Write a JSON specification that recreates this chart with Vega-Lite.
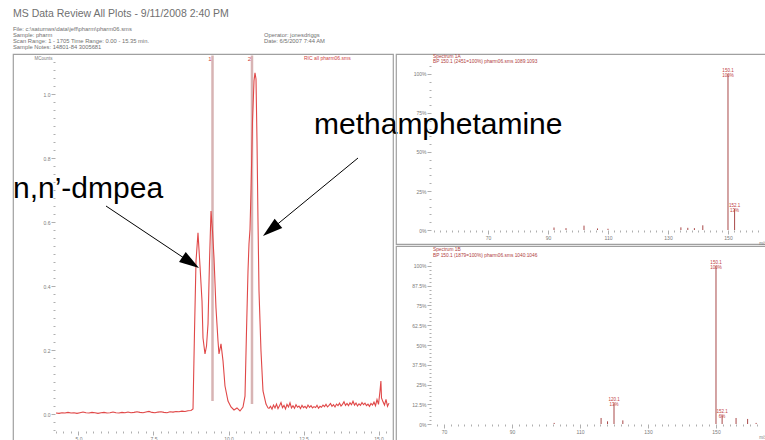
{
  "$schema": "https://vega.github.io/schema/vega-lite/v6.json",
  "padding": {"left": 12, "top": 8, "right": 0, "bottom": 0},
  "title": {"text": "MS Data Review All Plots - 9/11/2008 2:40 PM", "anchor": "start", "frame": "group", "fontSize": 10.5, "font": "Liberation Sans", "fontWeight": "normal", "color": "#707070", "offset": 3},
  "config": {
    "view": {"stroke": "#a0a0a0", "strokeWidth": 1.2},
    "font": "Liberation Sans",
    "axis": {"labelFont": "Liberation Sans", "titleFont": "Liberation Sans", "labelFontSize": 5, "labelColor": "#7a7a7a", "tickColor": "#9a9a9a", "tickWidth": 0.8, "grid": false, "domain": false, "labelOverlap": false, "labelFlush": false, "labelPadding": 1, "tickCount": 500}
  },
  "datasets": {
    "header": [
      {"line": 2, "col": "left", "text": "File: c:\\saturnws\\data\\jeff\\pharm\\pharm06.sms"},
      {"line": 3, "col": "left", "text": "Sample: pharm"},
      {"line": 3, "col": "right", "text": "Operator: jonesdriggs"},
      {"line": 4, "col": "left", "text": "Scan Range: 1 - 1705  Time Range: 0.00 - 15.35 min."},
      {"line": 4, "col": "right", "text": "Date: 6/5/2007 7:44 AM"},
      {"line": 5, "col": "left", "text": "Sample Notes: 14801-84 3005681"}
    ],
    "chrom": [
      {"t": 4.25, "I": 0.003}, {"t": 4.35, "I": 0.002}, {"t": 4.45, "I": 0.004}, {"t": 4.55, "I": 0.003}, {"t": 4.65, "I": 0.005},
      {"t": 4.75, "I": 0.003}, {"t": 4.85, "I": 0.004}, {"t": 4.95, "I": 0.002}, {"t": 5.05, "I": 0.004}, {"t": 5.15, "I": 0.006},
      {"t": 5.25, "I": 0.004}, {"t": 5.35, "I": 0.003}, {"t": 5.45, "I": 0.005}, {"t": 5.55, "I": 0.004}, {"t": 5.65, "I": 0.002},
      {"t": 5.75, "I": 0.004}, {"t": 5.85, "I": 0.005}, {"t": 5.95, "I": 0.003}, {"t": 6.05, "I": 0.004}, {"t": 6.15, "I": 0.006},
      {"t": 6.25, "I": 0.004}, {"t": 6.35, "I": 0.003}, {"t": 6.45, "I": 0.005}, {"t": 6.55, "I": 0.004}, {"t": 6.65, "I": 0.006},
      {"t": 6.75, "I": 0.004}, {"t": 6.85, "I": 0.005}, {"t": 6.95, "I": 0.007}, {"t": 7.05, "I": 0.005}, {"t": 7.15, "I": 0.004},
      {"t": 7.25, "I": 0.006}, {"t": 7.35, "I": 0.008}, {"t": 7.45, "I": 0.005}, {"t": 7.55, "I": 0.004}, {"t": 7.65, "I": 0.006},
      {"t": 7.75, "I": 0.007}, {"t": 7.85, "I": 0.005}, {"t": 7.95, "I": 0.004}, {"t": 8.05, "I": 0.007}, {"t": 8.15, "I": 0.006},
      {"t": 8.25, "I": 0.008}, {"t": 8.35, "I": 0.007}, {"t": 8.45, "I": 0.009}, {"t": 8.55, "I": 0.008}, {"t": 8.65, "I": 0.010},
      {"t": 8.75, "I": 0.011},
      {"t": 8.817, "I": 0.0156}, {"t": 8.867, "I": 0.259}, {"t": 8.917, "I": 0.478}, {"t": 8.983, "I": 0.566}, {"t": 9.05, "I": 0.4625},
      {"t": 9.117, "I": 0.353}, {"t": 9.15, "I": 0.2375}, {"t": 9.217, "I": 0.1875}, {"t": 9.267, "I": 0.2125}, {"t": 9.317, "I": 0.281},
      {"t": 9.367, "I": 0.478}, {"t": 9.417, "I": 0.634}, {"t": 9.467, "I": 0.572}, {"t": 9.517, "I": 0.4875}, {"t": 9.583, "I": 0.331},
      {"t": 9.65, "I": 0.228}, {"t": 9.683, "I": 0.1875}, {"t": 9.75, "I": 0.219}, {"t": 9.817, "I": 0.166}, {"t": 9.883, "I": 0.0875},
      {"t": 9.983, "I": 0.0406}, {"t": 10.083, "I": 0.0219}, {"t": 10.183, "I": 0.0125}, {"t": 10.283, "I": 0.0188}, {"t": 10.383, "I": 0.0094},
      {"t": 10.483, "I": 0.0219}, {"t": 10.55, "I": 0.056}, {"t": 10.6, "I": 0.259}, {"t": 10.65, "I": 0.447}, {"t": 10.683, "I": 0.531},
      {"t": 10.717, "I": 0.578}, {"t": 10.75, "I": 0.697}, {"t": 10.8, "I": 0.916}, {"t": 10.85, "I": 1.041}, {"t": 10.883, "I": 1.066},
      {"t": 10.917, "I": 1.047}, {"t": 10.95, "I": 0.853}, {"t": 10.983, "I": 0.603}, {"t": 11.017, "I": 0.384}, {"t": 11.083, "I": 0.197},
      {"t": 11.15, "I": 0.072}, {"t": 11.25, "I": 0.031}, {"t": 11.317, "I": 0.019},
      {"t": 11.35, "I": 0.018}, {"t": 11.4, "I": 0.024}, {"t": 11.45, "I": 0.015}, {"t": 11.5, "I": 0.028}, {"t": 11.55, "I": 0.019},
      {"t": 11.6, "I": 0.031}, {"t": 11.65, "I": 0.017}, {"t": 11.7, "I": 0.026}, {"t": 11.75, "I": 0.036}, {"t": 11.8, "I": 0.02},
      {"t": 11.85, "I": 0.027}, {"t": 11.9, "I": 0.016}, {"t": 11.95, "I": 0.03}, {"t": 12.0, "I": 0.022}, {"t": 12.05, "I": 0.035},
      {"t": 12.1, "I": 0.019}, {"t": 12.15, "I": 0.026}, {"t": 12.2, "I": 0.018}, {"t": 12.25, "I": 0.029}, {"t": 12.3, "I": 0.021},
      {"t": 12.35, "I": 0.025}, {"t": 12.4, "I": 0.017}, {"t": 12.45, "I": 0.027}, {"t": 12.5, "I": 0.02}, {"t": 12.55, "I": 0.024},
      {"t": 12.6, "I": 0.018}, {"t": 12.65, "I": 0.028}, {"t": 12.7, "I": 0.021}, {"t": 12.75, "I": 0.026}, {"t": 12.8, "I": 0.019},
      {"t": 12.85, "I": 0.023}, {"t": 12.9, "I": 0.02}, {"t": 12.95, "I": 0.027}, {"t": 13.0, "I": 0.018}, {"t": 13.05, "I": 0.024},
      {"t": 13.1, "I": 0.021}, {"t": 13.15, "I": 0.028}, {"t": 13.2, "I": 0.023}, {"t": 13.25, "I": 0.03}, {"t": 13.3, "I": 0.022},
      {"t": 13.35, "I": 0.027}, {"t": 13.4, "I": 0.033}, {"t": 13.45, "I": 0.024}, {"t": 13.5, "I": 0.029}, {"t": 13.55, "I": 0.022},
      {"t": 13.6, "I": 0.031}, {"t": 13.65, "I": 0.026}, {"t": 13.7, "I": 0.034}, {"t": 13.75, "I": 0.025}, {"t": 13.8, "I": 0.03},
      {"t": 13.85, "I": 0.038}, {"t": 13.9, "I": 0.027}, {"t": 13.95, "I": 0.033}, {"t": 14.0, "I": 0.026}, {"t": 14.05, "I": 0.035},
      {"t": 14.1, "I": 0.029}, {"t": 14.15, "I": 0.04}, {"t": 14.2, "I": 0.028}, {"t": 14.25, "I": 0.034}, {"t": 14.3, "I": 0.025},
      {"t": 14.35, "I": 0.032}, {"t": 14.4, "I": 0.027}, {"t": 14.45, "I": 0.036}, {"t": 14.5, "I": 0.029}, {"t": 14.55, "I": 0.034},
      {"t": 14.6, "I": 0.026}, {"t": 14.65, "I": 0.031}, {"t": 14.7, "I": 0.024}, {"t": 14.75, "I": 0.033}, {"t": 14.8, "I": 0.028},
      {"t": 14.85, "I": 0.037}, {"t": 14.9, "I": 0.026}, {"t": 14.95, "I": 0.045}, {"t": 15.0, "I": 0.03}, {"t": 15.05, "I": 0.072},
      {"t": 15.08, "I": 0.103}, {"t": 15.1, "I": 0.05}, {"t": 15.15, "I": 0.038}, {"t": 15.2, "I": 0.028}, {"t": 15.25, "I": 0.046},
      {"t": 15.3, "I": 0.024}, {"t": 15.35, "I": 0.034}
    ],
    "markers": [
      {"t": 9.467, "I": 0.0406, "I2": 1.12, "label": "1"},
      {"t": 10.783, "I": 0.031, "I2": 1.12, "label": "2"}
    ],
    "leftText": [
      {"t": 12.517, "I": 1.111, "text": "RIC all pharm06.sms"}
    ],
    "annot": [
      {"t": 12.85, "I": 0.875, "text": "methamphetamine"},
      {"t": 2.8167, "I": 0.675, "text": "n,n’-dmpea"}
    ],
    "arrows": [
      {"name": "methamphetamine", "t": 14.317, "I": 0.8, "t2": 11.407, "I2": 0.5759},
      {"name": "dmpea", "t": 5.917, "I": 0.65, "t2": 8.74, "I2": 0.4734}
    ],
    "specTop": [
      {"mz": 92, "pct": 1.6}, {"mz": 96, "pct": 1.2}, {"mz": 102, "pct": 2.8}, {"mz": 106.5, "pct": 1.0}, {"mz": 110, "pct": 0.8},
      {"mz": 134.3, "pct": 1.7}, {"mz": 136.6, "pct": 1.4}, {"mz": 138.8, "pct": 1.2}, {"mz": 141.6, "pct": 3.0},
      {"mz": 150, "pct": 100, "label": "150.1\n100%"},
      {"mz": 152.2, "pct": 13.5, "label": "152.1\n13%"}
    ],
    "specTopText": [
      {"mz": 51.67, "pct": 111.2, "text": "Spectrum 1A"},
      {"mz": 51.67, "pct": 108.0, "text": "BP 150.1 (2451=100%) pharm06.sms 1089:1093"}
    ],
    "specBot": [
      {"mz": 102.4, "pct": 0.7}, {"mz": 116.2, "pct": 3.8}, {"mz": 118.1, "pct": 1.7},
      {"mz": 120, "pct": 13.1, "label": "120.1\n13%"},
      {"mz": 122.6, "pct": 2.3},
      {"mz": 150, "pct": 100, "label": "150.1\n100%"},
      {"mz": 151.8, "pct": 5.5, "label": "152.1\n6%"},
      {"mz": 155.9, "pct": 3.8}, {"mz": 159.3, "pct": 3.2}, {"mz": 161.8, "pct": 0.7}
    ],
    "specBotText": [
      {"mz": 66.76, "pct": 110.4, "text": "Spectrum 1B"},
      {"mz": 66.76, "pct": 106.3, "text": "BP 150.1 (1879=100%) pharm06.sms 1040:1046"}
    ]
  },
  "vconcat": [
    {
      "width": 753,
      "height": 28.5,
      "view": {"stroke": null},
      "data": {"name": "header"},
      "mark": {"type": "text", "align": "left", "baseline": "middle", "fontSize": 5.8, "font": "Liberation Sans", "color": "#707070"},
      "encoding": {
        "x": {"field": "col", "type": "nominal", "scale": {"domain": ["left", "right"], "range": [0, 251], "padding": 0}, "axis": null},
        "y": {"field": "line", "type": "ordinal", "scale": {"domain": [2, 3, 4, 5], "range": [6.8, 25.2], "padding": 0}, "axis": null},
        "text": {"field": "text"}
      }
    },
    {
      "hconcat": [
        {
          "width": 380,
          "height": 387,
          "layer": [
            {
              "mark": {"type": "rect", "fill": "transparent", "stroke": "#a0a0a0", "strokeWidth": 1},
              "encoding": {
                "x": {"datum": 4.2167, "type": "quantitative"},
                "x2": {"datum": 15.35},
                "y": {"datum": -0.053, "type": "quantitative"},
                "y2": {"datum": 1.122}
              }
            },
            {
              "data": {"name": "markers"},
              "mark": {"type": "rule", "color": "#d8b4b4", "strokeWidth": 2.5},
              "encoding": {
                "x": {"field": "t", "type": "quantitative"},
                "y": {"field": "I", "type": "quantitative"},
                "y2": {"field": "I2"}
              }
            },
            {
              "data": {"name": "chrom"},
              "mark": {"type": "line", "color": "#e04848", "strokeWidth": 1.1},
              "encoding": {
                "x": {
                  "field": "t", "type": "quantitative",
                  "scale": {"domain": [2.81667, 15.48333], "nice": false, "zero": false},
                  "axis": {
                    "orient": "bottom", "offset": -10, "title": null, "tickCount": 500,
                    "values": [4.25,4.5,4.75,5,5.25,5.5,5.75,6,6.25,6.5,6.75,7,7.25,7.5,7.75,8,8.25,8.5,8.75,9,9.25,9.5,9.75,10,10.25,10.5,10.75,11,11.25,11.5,11.75,12,12.25,12.5,12.75,13,13.25,13.5,13.75,14,14.25,14.5,14.75,15,15.25],
                    "labelExpr": "abs(datum.value/2.5-round(datum.value/2.5))<0.001 ? format(datum.value,'.1f') : ''",
                    "tickSize": {"condition": {"test": "abs(datum.value/2.5-round(datum.value/2.5))<0.001", "value": 4}, "value": 2}
                  }
                },
                "y": {
                  "field": "I", "type": "quantitative",
                  "scale": {"domain": [-0.084375, 1.125], "nice": false, "zero": false},
                  "axis": {
                    "orient": "left", "offset": -42, "tickCount": 500,
                    "title": "MCounts", "titleAngle": 0, "titleX": -12, "titleY": 4, "titleAlign": "center", "titleBaseline": "middle", "titleFontSize": 4.5, "titleFontWeight": "normal", "titleColor": "#7a7a7a",
                    "values": [-0.05,-0.025,0,0.025,0.05,0.075,0.1,0.125,0.15,0.175,0.2,0.225,0.25,0.275,0.3,0.325,0.35,0.375,0.4,0.425,0.45,0.475,0.5,0.525,0.55,0.575,0.6,0.625,0.65,0.675,0.7,0.725,0.75,0.775,0.8,0.825,0.85,0.875,0.9,0.925,0.95,0.975,1,1.025,1.05,1.075,1.1],
                    "labelExpr": "abs(datum.value*5-round(datum.value*5))<0.001 ? format(datum.value,'.1f') : ''",
                    "tickSize": {"condition": {"test": "abs(datum.value*5-round(datum.value*5))<0.001", "value": 4}, "value": 2}
                  }
                }
              }
            },
            {
              "data": {"name": "markers"},
              "mark": {"type": "text", "align": "right", "baseline": "top", "dx": -1, "fontSize": 6, "color": "#d04040"},
              "encoding": {
                "x": {"field": "t", "type": "quantitative"},
                "y": {"field": "I2", "type": "quantitative"},
                "text": {"field": "label"}
              }
            },
            {
              "data": {"name": "leftText"},
              "mark": {"type": "text", "align": "left", "baseline": "middle", "fontSize": 5, "color": "#d04040"},
              "encoding": {
                "x": {"field": "t", "type": "quantitative"},
                "y": {"field": "I", "type": "quantitative"},
                "text": {"field": "text"}
              }
            },
            {
              "data": {"name": "arrows"},
              "mark": {"type": "rule", "color": "#000000", "strokeWidth": 1},
              "encoding": {
                "x": {"field": "t", "type": "quantitative"},
                "y": {"field": "I", "type": "quantitative"},
                "x2": {"field": "t2"},
                "y2": {"field": "I2"}
              }
            },
            {
              "data": {"name": "arrows"},
              "transform": [{"filter": "datum.name == 'methamphetamine'"}],
              "mark": {"type": "point", "shape": "M0,-1L-0.6,1L0.6,1Z", "filled": true, "color": "#000000", "opacity": 1, "size": 400, "angle": 230.6, "strokeWidth": 0},
              "encoding": {
                "x": {"field": "t2", "type": "quantitative"},
                "y": {"field": "I2", "type": "quantitative"}
              }
            },
            {
              "data": {"name": "arrows"},
              "transform": [{"filter": "datum.name == 'dmpea'"}],
              "mark": {"type": "point", "shape": "M0,-1L-0.6,1L0.6,1Z", "filled": true, "color": "#000000", "opacity": 1, "size": 400, "angle": 123.7, "strokeWidth": 0},
              "encoding": {
                "x": {"field": "t2", "type": "quantitative"},
                "y": {"field": "I2", "type": "quantitative"}
              }
            },
            {
              "data": {"name": "annot"},
              "mark": {"type": "text", "align": "left", "baseline": "alphabetic", "fontSize": 30, "font": "Liberation Sans", "color": "#000000"},
              "encoding": {
                "x": {"field": "t", "type": "quantitative"},
                "y": {"field": "I", "type": "quantitative"},
                "text": {"field": "text"}
              }
            }
          ]
        },
        {
          "vconcat": [
            {
              "width": 370,
              "height": 190,
              "layer": [
                {
                  "mark": {"type": "rect", "fill": "transparent", "stroke": "#a0a0a0", "strokeWidth": 1},
                  "encoding": {
                    "x": {"datum": 51, "type": "quantitative"},
                    "x2": {"datum": 160},
                    "y": {"datum": 0, "type": "quantitative"},
                    "y2": {"datum": 105.77}
                  }
                },
                {
                  "data": {"name": "specTop"},
                  "mark": {"type": "rule", "color": "#a84848", "strokeWidth": 1},
                  "encoding": {
                    "x": {
                      "field": "mz", "type": "quantitative",
                      "scale": {"domain": [39.333, 162.667], "nice": false, "zero": false},
                      "axis": {
                        "orient": "bottom", "offset": -14, "tickCount": 500,
                        "title": "m/z", "titleAnchor": "end", "titleFontSize": 4.5, "titleFontWeight": "normal", "titleColor": "#7a7a7a", "titlePadding": 0,
                        "values": [52,54,56,58,60,62,64,66,68,70,72,74,76,78,80,82,84,86,88,90,92,94,96,98,100,102,104,106,108,110,112,114,116,118,120,122,124,126,128,130,132,134,136,138,140,142,144,146,148,150,152,154,156,158,160],
                        "labelExpr": "(datum.value-10)%20==0 ? format(datum.value,'d') : ''",
                        "tickSize": {"condition": {"test": "(datum.value-10)%20==0", "value": 4}, "value": 2}
                      }
                    },
                    "y": {
                      "field": "pct", "type": "quantitative",
                      "scale": {"domain": [-8.974, 112.82], "nice": false, "zero": false},
                      "axis": {
                        "orient": "left", "offset": -35, "title": null, "tickCount": 500,
                        "values": [0,5,10,15,20,25,30,35,40,45,50,55,60,65,70,75,80,85,90,95,100,105],
                        "labelExpr": "datum.value%25==0 ? datum.value+'%' : ''",
                        "tickSize": {"condition": {"test": "datum.value%25==0", "value": 4}, "value": 2}
                      }
                    },
                    "y2": {"datum": 0}
                  }
                },
                {
                  "data": {"name": "specTop"},
                  "transform": [{"filter": "datum.label"}],
                  "mark": {"type": "text", "align": "center", "baseline": "bottom", "dy": -1, "fontSize": 4.5, "lineBreak": "\n", "lineHeight": 5, "color": "#c04040"},
                  "encoding": {
                    "x": {"field": "mz", "type": "quantitative"},
                    "y": {"field": "pct", "type": "quantitative"},
                    "text": {"field": "label"}
                  }
                },
                {
                  "data": {"name": "specTopText"},
                  "mark": {"type": "text", "align": "left", "baseline": "middle", "fontSize": 4.8, "color": "#b04040"},
                  "encoding": {
                    "x": {"field": "mz", "type": "quantitative"},
                    "y": {"field": "pct", "type": "quantitative"},
                    "text": {"field": "text"}
                  }
                }
              ]
            },
            {
              "width": 370,
              "height": 195,
              "layer": [
                {
                  "mark": {"type": "rect", "fill": "transparent", "stroke": "#a0a0a0", "strokeWidth": 1},
                  "encoding": {
                    "x": {"datum": 66.18, "type": "quantitative"},
                    "x2": {"datum": 162.35},
                    "y": {"datum": 0, "type": "quantitative"},
                    "y2": {"datum": 104.43}
                  }
                },
                {
                  "data": {"name": "specBot"},
                  "mark": {"type": "rule", "color": "#a84848", "strokeWidth": 1},
                  "encoding": {
                    "x": {
                      "field": "mz", "type": "quantitative",
                      "scale": {"domain": [55.882, 164.706], "nice": false, "zero": false},
                      "axis": {
                        "orient": "bottom", "offset": -17, "tickCount": 500,
                        "title": "m/z", "titleAnchor": "end", "titleFontSize": 4.5, "titleFontWeight": "normal", "titleColor": "#7a7a7a", "titlePadding": 0,
                        "values": [68,70,72,74,76,78,80,82,84,86,88,90,92,94,96,98,100,102,104,106,108,110,112,114,116,118,120,122,124,126,128,130,132,134,136,138,140,142,144,146,148,150,152,154,156,158,160,162],
                        "labelExpr": "(datum.value-10)%20==0 ? format(datum.value,'d') : ''",
                        "tickSize": {"condition": {"test": "(datum.value-10)%20==0", "value": 4}, "value": 2}
                      }
                    },
                    "y": {
                      "field": "pct", "type": "quantitative",
                      "scale": {"domain": [-10.759, 112.658], "nice": false, "zero": false},
                      "axis": {
                        "orient": "left", "offset": -35, "title": null, "tickCount": 500,
                        "values": [0,2.5,5,7.5,10,12.5,15,17.5,20,22.5,25,27.5,30,32.5,35,37.5,40,42.5,45,47.5,50,52.5,55,57.5,60,62.5,65,67.5,70,72.5,75,77.5,80,82.5,85,87.5,90,92.5,95,97.5,100,102.5],
                        "labelExpr": "datum.value%12.5==0 ? datum.value+'%' : ''",
                        "tickSize": {"condition": {"test": "datum.value%12.5==0", "value": 4}, "value": 2}
                      }
                    },
                    "y2": {"datum": 0}
                  }
                },
                {
                  "data": {"name": "specBot"},
                  "transform": [{"filter": "datum.label"}],
                  "mark": {"type": "text", "align": "center", "baseline": "bottom", "dy": -1, "fontSize": 4.5, "lineBreak": "\n", "lineHeight": 5, "color": "#c04040"},
                  "encoding": {
                    "x": {"field": "mz", "type": "quantitative"},
                    "y": {"field": "pct", "type": "quantitative"},
                    "text": {"field": "label"}
                  }
                },
                {
                  "data": {"name": "specBotText"},
                  "mark": {"type": "text", "align": "left", "baseline": "middle", "fontSize": 4.8, "color": "#b04040"},
                  "encoding": {
                    "x": {"field": "mz", "type": "quantitative"},
                    "y": {"field": "pct", "type": "quantitative"},
                    "text": {"field": "text"}
                  }
                }
              ]
            }
          ],
          "spacing": 2,
          "bounds": "flush"
        }
      ],
      "spacing": 3,
      "bounds": "flush"
    }
  ],
  "spacing": 3,
  "bounds": "flush"
}
